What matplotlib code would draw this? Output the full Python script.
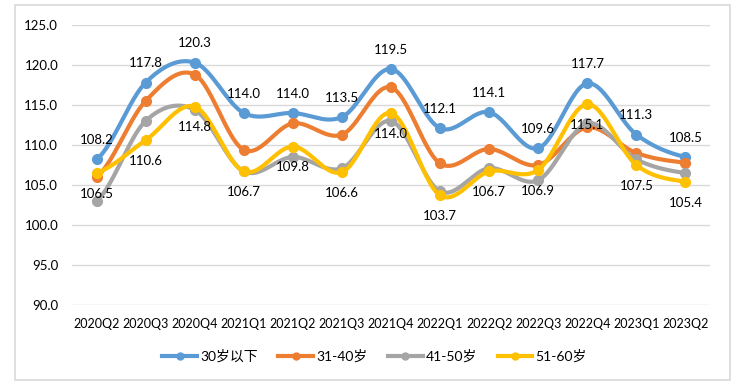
"""Quarterly index by age group, smoothed lines with data labels."""
import matplotlib.pyplot as plt
import matplotlib.patches as patches
import numpy as np

plt.rcParams["font.family"] = ["Lato", "Noto Sans CJK SC", "DejaVu Sans"]

quarters = ["2020Q2", "2020Q3", "2020Q4", "2021Q1", "2021Q2", "2021Q3", "2021Q4",
            "2022Q1", "2022Q2", "2022Q3", "2022Q4", "2023Q1", "2023Q2"]
under30 = [108.2, 117.8, 120.3, 114.0, 114.0, 113.5, 119.5, 112.1, 114.1, 109.6, 117.7, 111.3, 108.5]
age31_40 = [106.0, 115.5, 118.8, 109.4, 112.7, 111.3, 117.2, 107.7, 109.5, 107.5, 112.2, 109.0, 107.8]
age41_50 = [103.0, 113.0, 114.4, 106.7, 108.5, 107.1, 113.0, 104.2, 107.1, 105.6, 112.7, 108.2, 106.5]
age51_60 = [106.5, 110.6, 114.8, 106.7, 109.8, 106.6, 114.0, 103.7, 106.7, 106.9, 115.1, 107.5, 105.4]

series = [
    ("30岁以下", under30, "#5B9BD5", "above"),
    ("31-40岁", age31_40, "#ED7D31", None),
    ("41-50岁", age41_50, "#A5A5A5", None),
    ("51-60岁", age51_60, "#FFC000", "below"),
]


def smooth(x, y, n=30):
    # Catmull-Rom through the points, similar to Excel's smoothed line
    x = np.asarray(x, float); y = np.asarray(y, float)
    px = np.concatenate([[2 * x[0] - x[1]], x, [2 * x[-1] - x[-2]]])
    py = np.concatenate([[y[0]], y, [y[-1]]])
    xs, ys = [], []
    t = np.linspace(0, 1, n)
    for i in range(1, len(px) - 2):
        p0, p1, p2, p3 = py[i - 1], py[i], py[i + 1], py[i + 2]
        q0, q1, q2, q3 = px[i - 1], px[i], px[i + 1], px[i + 2]
        def cr(a0, a1, a2, a3):
            return 0.5 * ((2 * a1) + (-a0 + a2) * t + (2 * a0 - 5 * a1 + 4 * a2 - a3) * t ** 2
                          + (-a0 + 3 * a1 - 3 * a2 + a3) * t ** 3)
        xs.append(cr(q0, q1, q2, q3)); ys.append(cr(p0, p1, p2, p3))
    return np.concatenate(xs), np.concatenate(ys)


fig = plt.figure(figsize=(7.49, 3.91), dpi=100)
fig.patches.append(patches.Rectangle((15 / 749, 1 - 380 / 391), 715 / 749, 375 / 391,
                                     transform=fig.transFigure, fill=False,
                                     edgecolor="#d9d9d9", lw=1.2))
ax = fig.add_axes([72 / 749, 1 - 305 / 391, 638 / 749, 280 / 391])

xi = np.arange(len(quarters))
for name, vals, color, lab in series:
    sx, sy = smooth(xi, vals)
    ax.plot(sx, sy, color=color, lw=3, solid_capstyle="round", zorder=3)
    ax.plot(xi, vals, "o", color=color, ms=7, zorder=3)
    ax.plot([], [], color=color, lw=3, marker="o", ms=5, label=name)
    if lab:
        off = 14 if lab == "above" else -15
        for x, v in zip(xi, vals):
            ax.annotate(f"{v:.1f}", (x, v), xytext=(0, off), textcoords="offset points",
                        ha="center", va="center", fontsize=9.5, color="#000000", zorder=5)

ax.set_xlim(-0.5, len(quarters) - 0.5)
ax.set_ylim(90, 125)
ax.set_yticks(np.arange(90, 126, 5))
ax.set_yticklabels([f"{v:.1f}" for v in np.arange(90, 126, 5)])
ax.set_xticks(xi)
ax.set_xticklabels(quarters)
ax.tick_params(length=0, labelsize=9.5, colors="#000000")
ax.tick_params(axis="x", pad=9, labelsize=9)
ax.tick_params(axis="y", pad=10)
ax.grid(axis="y", color="#d9d9d9", lw=1)
ax.set_axisbelow(True)
for s in ax.spines.values():
    s.set_visible(False)

fig.legend(loc="center", bbox_to_anchor=(0.5, 1 - 356 / 391), ncol=4, frameon=False,
           fontsize=10, handlelength=2.5, handletextpad=0.2, columnspacing=1.5)

fig.savefig("out.png", dpi=100)
